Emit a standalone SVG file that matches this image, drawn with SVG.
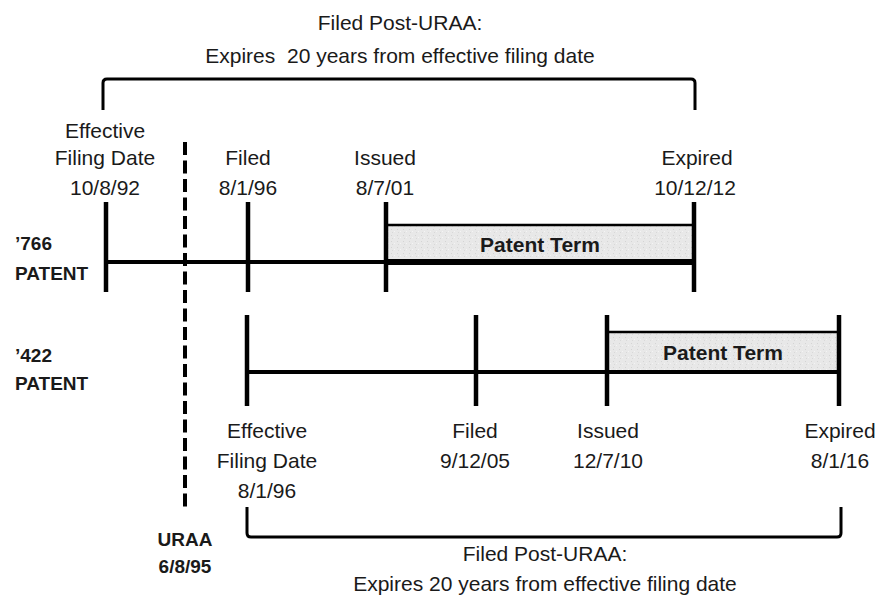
<svg xmlns="http://www.w3.org/2000/svg" width="882" height="598" viewBox="0 0 882 598">
<style>
text{font-family:"Liberation Sans",Arial,sans-serif;fill:#1a1a1a}
.l{font-size:21px;text-anchor:middle}
.b{font-size:19px;font-weight:bold}
.pt{font-size:21px;font-weight:bold;text-anchor:middle}
.line{stroke:#000;stroke-width:4;fill:none}
.tick{stroke:#000;stroke-width:4.5}
.br{stroke:#000;stroke-width:3;fill:none;stroke-linejoin:round}
.term{fill:url(#speck);stroke:#000;stroke-width:2.5}
</style>
<defs>
<pattern id="speck" width="6" height="6" patternUnits="userSpaceOnUse">
<rect width="6" height="6" fill="#e8e8e8"/>
<rect x="1" y="1" width="1" height="1" fill="#d4d4d4"/>
<rect x="4" y="3" width="1" height="1" fill="#f4f4f4"/>
<rect x="2" y="4" width="1" height="1" fill="#d8d8d8"/>
</pattern>
</defs>
<rect width="882" height="598" fill="#fff"/>

<g id="top-bracket">
<path class="br" d="M103,110 V83 Q103,79 107,79 H691 Q695,79 695,83 V110"/>
<text class="l" x="400" y="30">Filed Post-URAA:</text>
<text class="l" x="400" y="63">Expires&#160; 20 years from effective filing date</text>
</g>

<g id="uraa">
<line x1="185" y1="142" x2="185" y2="510" stroke="#000" stroke-width="4" stroke-dasharray="13,5.5"/>
<text class="b" x="185" y="546" text-anchor="middle">URAA</text>
<text class="b" x="185" y="573" text-anchor="middle">6/8/95</text>
</g>

<g id="patent-766">
<text class="b" x="15" y="250">’766</text>
<text class="b" x="15" y="280">PATENT</text>
<rect class="term" x="386" y="225" width="308" height="37"/>
<text class="pt" x="540" y="252">Patent Term</text>
<line class="line" x1="106" y1="262" x2="694" y2="262"/>
<line x1="386" y1="262" x2="694" y2="262" stroke="#000" stroke-width="6"/>
<line class="tick" x1="106" y1="202" x2="106" y2="292"/>
<line class="tick" x1="248" y1="202" x2="248" y2="292"/>
<line class="tick" x1="386" y1="202" x2="386" y2="292"/>
<line class="tick" x1="694" y1="202" x2="694" y2="292"/>
<text class="l" x="105" y="138">Effective</text>
<text class="l" x="105" y="165">Filing Date</text>
<text class="l" x="105" y="195">10/8/92</text>
<text class="l" x="248" y="165">Filed</text>
<text class="l" x="248" y="195">8/1/96</text>
<text class="l" x="385" y="165">Issued</text>
<text class="l" x="385" y="195">8/7/01</text>
<text class="l" x="697" y="165">Expired</text>
<text class="l" x="695" y="195">10/12/12</text>
</g>

<g id="patent-422">
<text class="b" x="15" y="362">’422</text>
<text class="b" x="15" y="390">PATENT</text>
<rect class="term" x="607" y="332" width="232" height="40"/>
<text class="pt" x="723" y="360">Patent Term</text>
<line class="line" x1="247" y1="372" x2="839" y2="372"/>
<line class="tick" x1="247" y1="315" x2="247" y2="406"/>
<line class="tick" x1="476" y1="315" x2="476" y2="406"/>
<line class="tick" x1="607" y1="315" x2="607" y2="406"/>
<line class="tick" x1="839" y1="315" x2="839" y2="406"/>
<text class="l" x="267" y="438">Effective</text>
<text class="l" x="267" y="468">Filing Date</text>
<text class="l" x="267" y="498">8/1/96</text>
<text class="l" x="475" y="438">Filed</text>
<text class="l" x="475" y="468">9/12/05</text>
<text class="l" x="608" y="438">Issued</text>
<text class="l" x="608" y="468">12/7/10</text>
<text class="l" x="840" y="438">Expired</text>
<text class="l" x="840" y="468">8/1/16</text>
</g>

<g id="bottom-bracket">
<path class="br" d="M247,507 V533 Q247,537 251,537 H837 Q841,537 841,533 V507"/>
<text class="l" x="545" y="561">Filed Post-URAA:</text>
<text class="l" x="545" y="591">Expires 20 years from effective filing date</text>
</g>
</svg>
